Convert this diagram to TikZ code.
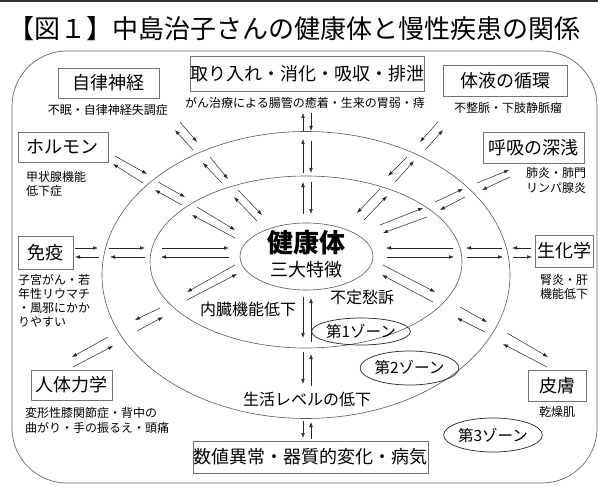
\documentclass[tikz,border=0pt]{standalone}
\usepackage{fontspec}
\setmainfont{Noto Sans CJK JP}
\usetikzlibrary{arrows.meta,shapes.geometric}
\begin{document}
\begin{tikzpicture}[x=1pt,y=-1pt,
  arr/.style={-{Latex[length=5pt,width=3.6pt]}, line width=0.5pt, draw=black!85},
  ring/.style={ellipse, draw=black!65, line width=0.6pt, inner sep=0pt},
  zone/.style={ellipse, draw=black!85, line width=0.7pt, inner sep=0pt, font=\fontsize{15.5}{17}\selectfont},
  lbox/.style={draw=black!55, line width=0.8pt, inner sep=0pt, font=\fontsize{18}{20}\selectfont},
  sub/.style={inner sep=0pt, font=\fontsize{12}{14}\selectfont},
  subl/.style={sub, anchor=west},
  mid/.style={inner sep=0pt, font=\fontsize{16}{18}\selectfont}]
\useasboundingbox (0,0) rectangle (598,503);
\fill[white] (0,0) rectangle (598,503);
% top rule and frame
\draw[line width=2.5pt, black!80] (0,1.2) -- (598,1.2);
\draw[draw=black!60, line width=0.7pt, rounded corners=55pt] (12,51) rectangle (597,483);
% title
\node[anchor=west, inner sep=0pt, font=\fontsize{26}{28}\selectfont] (title) at (8,29) {【図１】中島治子さんの健康体と慢性疾患の関係};
% rings
\node[ring, minimum width=408pt, minimum height=287pt] (ring2) at (306,275) {};
\node[ring, minimum width=312pt, minimum height=172pt] (ring1) at (306,262) {};
\node[ring, minimum width=133pt, minimum height=67pt] (core) at (306.5,256.5) {};
\node[inner sep=0pt, font=\fontsize{26}{28}\selectfont\bfseries] (kenko) at (306,243) {健康体};
\node[inner sep=0pt, font=\fontsize{18}{20}\selectfont] (sandai) at (306,270) {三大特徴};
% zone labels
\node[zone, minimum width=92pt, minimum height=27pt] (z1) at (361,331.5) {第1ゾーン};
\node[zone, minimum width=91pt, minimum height=34pt] (z2) at (409.5,368) {第2ゾーン};
\node[zone, minimum width=90pt, minimum height=34pt] (z3) at (493,435) {第3ゾーン};
\node[mid] (naizo) at (248,309) {内臓機能低下};
\node[mid] (futei) at (362,297) {不定愁訴};
\node[mid] (seikatsu) at (307,399) {生活レベルの低下};
% boxes
\node[lbox, minimum width=101pt, minimum height=30pt] (jiritsu) at (108.5,83) {自律神経};
\node[lbox, minimum width=222pt, minimum height=35pt] (torii) at (307,73.5) {取り入れ・消化・吸収・排泄};
\node[lbox, minimum width=124pt, minimum height=31pt] (taieki) at (505,80.5) {体液の循環};
\node[lbox, minimum width=90pt, minimum height=30pt] (hormone) at (63,147) {ホルモン};
\node[lbox, minimum width=101pt, minimum height=31pt] (kokyu) at (533.5,147.5) {呼吸の深浅};
\node[lbox, minimum width=55pt, minimum height=33pt] (meneki) at (45.5,252.5) {免疫};
\node[lbox, minimum width=58pt, minimum height=32pt] (seika) at (564,251) {生化学};
\node[lbox, minimum width=81pt, minimum height=30pt] (jintai) at (71.5,385) {人体力学};
\node[lbox, minimum width=58pt, minimum height=31pt] (hifu) at (557,385.5) {皮膚};
\node[lbox, minimum width=235pt, minimum height=32pt] (suuchi) at (310.5,457) {数値異常・器質的変化・病気};
% sub texts
\node[sub] (s1) at (108,110) {不眠・自律神経失調症};
\node[sub] (s2) at (305,103) {がん治療による腸管の癒着・生来の胃弱・痔};
\node[sub] (s3) at (508,108) {不整脈・下肢静脈瘤};
\node[subl] (s4a) at (26,177) {甲状腺機能};
\node[subl] (s4b) at (26,191) {低下症};
\node[subl] (s5a) at (526,173) {肺炎・肺門};
\node[subl] (s5b) at (526,188) {リンパ腺炎};
\node[subl] (s6a) at (18,280) {子宮がん・若};
\node[subl] (s6b) at (18,294) {年性リウマチ};
\node[subl] (s6c) at (18,308) {・風邪にかか};
\node[subl] (s6d) at (18,322) {りやすい};
\node[subl] (s7a) at (540,280) {腎炎・肝};
\node[subl] (s7b) at (540,294) {機能低下};
\node[subl] (s8a) at (25,413) {変形性膝関節症・背中の};
\node[subl] (s8b) at (25,428) {曲がり・手の振るえ・頭痛};
\node[sub] (s9) at (557,412) {乾燥肌};
% vertical top
\draw[arr] (303,131) -- (303,113); \draw[arr] (311,113) -- (311,131);
\draw[arr] (303,173) -- (303,139); \draw[arr] (311,141) -- (311,173);
\draw[arr] (303,214) -- (303,182); \draw[arr] (311,182) -- (311,214);
% vertical bottom
\draw[arr] (303,297) -- (303,338); \draw[arr] (311,342) -- (311,298);
\draw[arr] (303,352) -- (303,384); \draw[arr] (311,386) -- (311,354);
\draw[arr] (303,421) -- (303,438); \draw[arr] (311,439) -- (311,422);
% left horizontal
\draw[arr] (75,248) -- (98,248); \draw[arr] (99,257) -- (75,257);
\draw[arr] (109,248) -- (145,248); \draw[arr] (145,257) -- (110,257);
\draw[arr] (162,248) -- (229,248); \draw[arr] (229,257) -- (161,257);
% right horizontal
\draw[arr] (453,248) -- (386,248); \draw[arr] (387,257) -- (454,257);
\draw[arr] (502,248) -- (466,248); \draw[arr] (467,257) -- (503,257);
\draw[arr] (531,248) -- (512,248); \draw[arr] (513,257) -- (532,257);
% upper left (jiritsu)
\draw[arr] (180,122) -- (197,142); \draw[arr] (193,150) -- (175,130);
\draw[arr] (210,157) -- (228,179); \draw[arr] (222,183) -- (203,163);
\draw[arr] (238,190) -- (262,215); \draw[arr] (257,221) -- (234,197);
% left upper (hormone)
\draw[arr] (115,156) -- (147,174); \draw[arr] (143,183) -- (113,164);
\draw[arr] (158,182) -- (185,197); \draw[arr] (182,205) -- (155,190);
\draw[arr] (197,207) -- (235,230); \draw[arr] (235,238) -- (192,215);
% upper right (taieki)
\draw[arr] (438,122) -- (420,142); \draw[arr] (425,150) -- (443,130);
\draw[arr] (407,157) -- (388,176); \draw[arr] (395,182) -- (414,161);
\draw[arr] (380,189) -- (357,213); \draw[arr] (364,220) -- (387,196);
% right upper (kokyu)
\draw[arr] (477,183) -- (509,170); \draw[arr] (510,177) -- (482,190);
\draw[arr] (435,202) -- (463,189); \draw[arr] (465,197) -- (440,210);
\draw[arr] (380,225) -- (423,208); \draw[arr] (427,217) -- (383,233);
% lower right (hifu)
\draw[arr] (383,265) -- (435,292); \draw[arr] (433,302) -- (382,275);
\draw[arr] (460,307) -- (487,322); \draw[arr] (485,332) -- (457,318);
\draw[arr] (507,333) -- (548,357); \draw[arr] (547,367) -- (503,344);
% lower left (jintai)
\draw[arr] (187,300) -- (237,274); \draw[arr] (235,265) -- (187,292);
\draw[arr] (160,308) -- (135,320); \draw[arr] (137,331) -- (163,317);
\draw[arr] (108,337) -- (72,357); \draw[arr] (73,367) -- (113,346);
\end{tikzpicture}
\end{document}
